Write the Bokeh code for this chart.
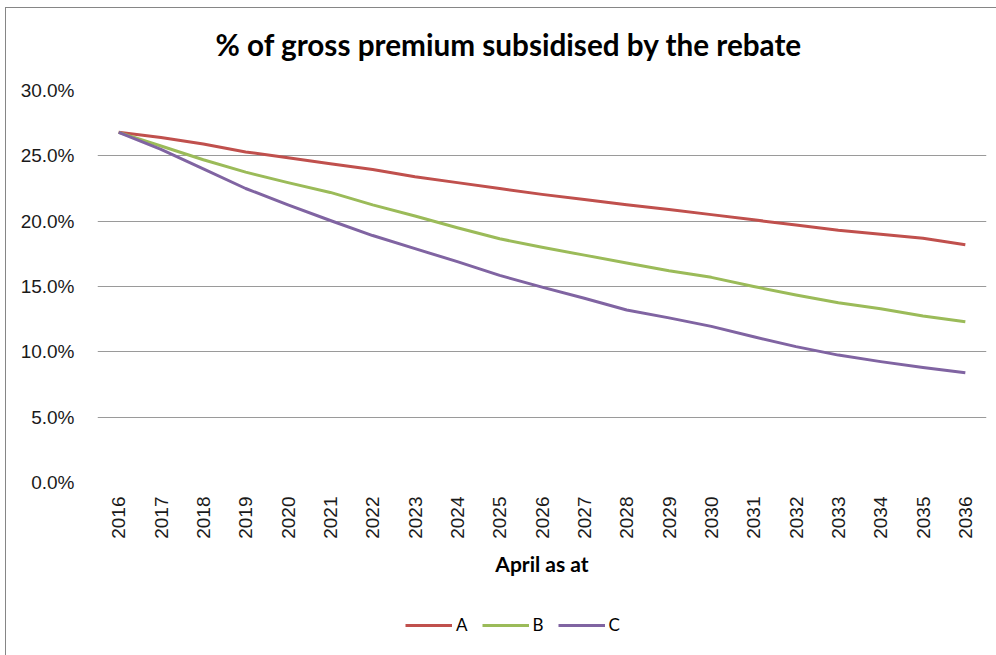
import numpy as np
from bokeh.plotting import figure
from bokeh.layouts import column
from bokeh.models import (ColumnDataSource, FixedTicker, NumeralTickFormatter, Range1d,
                          Legend, LegendItem, Label)
from bokeh.embed import file_html
from bokeh.resources import INLINE

years = list(range(2016, 2037))
series_names = ["A", "B", "C"]
series_a = [26.8, 26.4, 25.9, 25.3, 24.85, 24.4, 23.95, 23.4, 22.95, 22.5, 22.05, 21.65,
            21.25, 20.9, 20.5, 20.1, 19.7, 19.3, 19.0, 18.7, 18.2]
series_b = [26.8, 25.75, 24.7, 23.75, 22.95, 22.2, 21.25, 20.4, 19.5, 18.65, 18.0, 17.4,
            16.8, 16.2, 15.7, 15.0, 14.35, 13.75, 13.3, 12.75, 12.3]
series_c = [26.8, 25.5, 24.0, 22.5, 21.25, 20.05, 18.9, 17.9, 16.9, 15.85, 14.95, 14.1,
            13.2, 12.6, 11.95, 11.15, 10.4, 9.75, 9.25, 8.8, 8.4]
colors = ["#C0504D", "#9BBB59", "#8064A2"]
y_ticks = [0, 5, 10, 15, 20, 25, 30]
title_text = "% of gross premium subsidised by the rebate"
x_title = "April as at"

W = 990
H_TITLE, H_MAIN, H_LEG = 62, 530, 55
BORDER_L, BORDER_R = 91, 10
FRAME_W = W - BORDER_L - BORDER_R


def bare(fig):
    fig.outline_line_color = None
    fig.border_fill_color = "white"
    fig.background_fill_color = "white"
    return fig


# ---- title strip (its frame is aligned with the chart frame by the column)
pt = bare(figure(width=W, height=H_TITLE, output_backend="svg", toolbar_location=None,
                 x_range=Range1d(0, FRAME_W), y_range=Range1d(0, H_TITLE),
                 x_axis_type=None, y_axis_type=None,
                 min_border_left=BORDER_L, min_border_right=BORDER_R,
                 min_border_top=0, min_border_bottom=0))
pt.grid.visible = False
pt.add_layout(Label(x=411.5, y=26, text=title_text, text_align="center",
                    text_baseline="alphabetic", text_font="Lato", text_font_style="bold",
                    text_font_size="29.7px", text_color="#000000"))

# ---- main chart
p = bare(figure(width=W, height=H_MAIN, output_backend="svg", toolbar_location=None,
                x_range=Range1d(years[0] - 0.5, years[-1] + 0.5),
                y_range=Range1d(0, 0.30),
                min_border_left=BORDER_L, min_border_right=BORDER_R, min_border_top=20,
                min_border_bottom=118))

p.xaxis.ticker = FixedTicker(ticks=years)
p.xaxis.major_label_overrides = {y: str(y) for y in years}
p.xaxis.major_label_orientation = np.pi / 2
p.xaxis.axis_line_color = None
p.xaxis.major_tick_line_color = None
p.xaxis.minor_tick_line_color = None
p.xaxis.major_tick_out = 0
p.xaxis.major_label_standoff = 14
p.xaxis.major_label_text_font = "Liberation Sans"
p.xaxis.major_label_text_font_size = "19px"
p.xaxis.major_label_text_color = "#1a1a1a"
p.xaxis.axis_label = x_title
p.xaxis.axis_label_text_font = "Lato"
p.xaxis.axis_label_text_font_style = "bold"
p.xaxis.axis_label_text_font_size = "21px"
p.xaxis.axis_label_standoff = 9
p.xaxis.axis_label_text_color = "#000000"

p.yaxis.ticker = FixedTicker(ticks=[t / 100 for t in y_ticks])
p.yaxis.formatter = NumeralTickFormatter(format="0.0%")
p.yaxis.axis_line_color = None
p.yaxis.major_tick_line_color = None
p.yaxis.minor_tick_line_color = None
p.yaxis.major_tick_out = 0
p.yaxis.major_label_standoff = 23
p.yaxis.major_label_text_font = "Liberation Sans"
p.yaxis.major_label_text_font_size = "19px"
p.yaxis.major_label_text_color = "#1a1a1a"

p.xgrid.grid_line_color = None
p.ygrid.grid_line_color = "#9a9a9a"
p.ygrid.grid_line_width = 1

sources = []
for vals in [series_a, series_b, series_c]:
    sources.append(ColumnDataSource(dict(x=years, y=[v / 100 for v in vals])))

for src, col in zip(sources, colors):
    p.line("x", "y", source=src, line_color=col, line_width=3, line_join="round")

# ---- legend strip (series lie off-range here; only the legend shows)
pl = bare(figure(width=W, height=H_LEG, output_backend="svg", toolbar_location=None,
                 x_range=Range1d(0, FRAME_W), y_range=Range1d(0, H_LEG),
                 x_axis_type=None, y_axis_type=None,
                 min_border_left=BORDER_L, min_border_right=BORDER_R,
                 min_border_top=0, min_border_bottom=0))
pl.grid.visible = False
leg_items = []
for name, src, col in zip(series_names, sources, colors):
    r = pl.line("x", "y", source=src, line_color=col, line_width=3)
    leg_items.append(LegendItem(label=name, renderers=[r]))

legend = Legend(items=leg_items, orientation="horizontal", location=(308, 20),
                glyph_width=47, glyph_height=18, label_standoff=4, spacing=14,
                label_width=11,
                label_text_font="Lato", label_text_font_size="17px",
                label_text_color="#000000", border_line_color=None,
                background_fill_alpha=0, padding=0, margin=0)
pl.add_layout(legend, "center")

layout = column(pt, p, pl, spacing=0,
                styles={"margin-left": "5px", "margin-top": "7px",
                        "border-left": "1px solid #868686", "border-top": "1px solid #868686"})

open("out.html", "w").write(file_html(layout, INLINE))
